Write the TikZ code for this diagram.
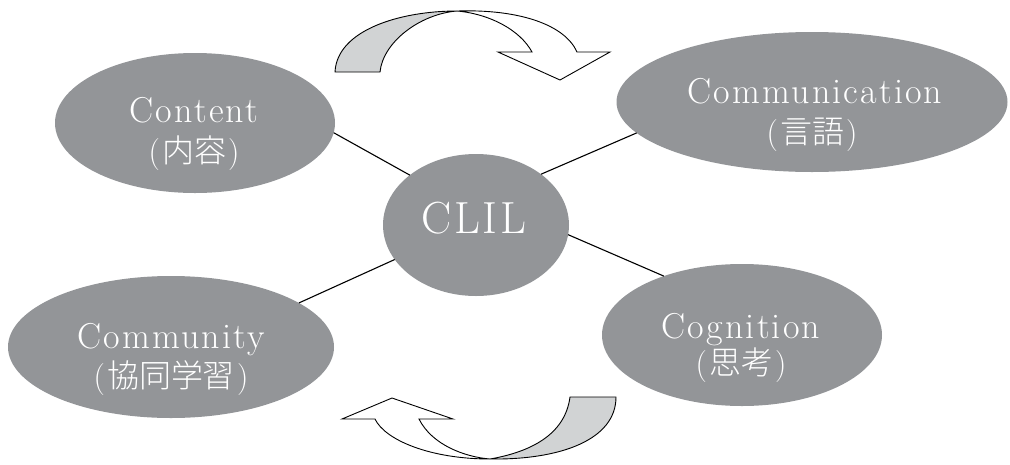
\documentclass[tikz,border=0pt]{standalone}
\usepackage{fontspec}
\setmainfont{Latin Modern Roman}[LetterSpace=6]
\newfontfamily\cjkfont{Noto Sans CJK JP Light}
\usetikzlibrary{shapes.geometric}
\definecolor{bubgray}{RGB}{147,149,152}
\definecolor{tailgray}{RGB}{209,211,212}
\newcommand\latfont{\fontsize{36}{40}\selectfont}
\newcommand\jpfont{\fontsize{32}{36}\selectfont}
\newcommand\clilfont{\fontsize{45}{50}\selectfont}
\newcommand\jpl[1]{(\kern2pt{\cjkfont #1}\kern2pt)}
\tikzset{
  bub/.style={ellipse, fill=bubgray, draw=none, inner sep=0pt, outer sep=0pt},
  lbl/.style={text=white, inner sep=0pt, anchor=base},
  link/.style={draw=black, line width=1.1pt},
  bandwhite/.style={draw=black, fill=white, line width=0.9pt, line join=miter},
  bandgray/.style={draw=black, fill=tailgray, line width=0.9pt, line join=miter},
}
\begin{document}
\begin{tikzpicture}[x=1pt,y=-1pt]
\useasboundingbox (0,0) rectangle (1010,464);

% bubbles
\node[bub, minimum width=280pt, minimum height=140pt] (content) at (195,123) {};
\node[bub, minimum width=391pt, minimum height=140pt] (comm) at (812,102) {};
\node[bub, minimum width=186pt, minimum height=142pt] (clil) at (476,225) {};
\node[bub, minimum width=280pt, minimum height=142pt] (cogn) at (742,335) {};
\node[bub, minimum width=326pt, minimum height=142pt] (commu) at (171,347) {};

% connectors
\draw[link] (content.-4) -- (clil.143);
\draw[link] (clil.38) -- (comm.190);
\draw[link] (clil.-6) -- (cogn.143);
\draw[link] (clil.203) -- (commu.19);

% labels
\node[lbl, font=\latfont] (content-a) at (194,122) {Content};
\node[lbl, font=\jpfont] (content-b) at (194,162) {\jpl{内容}};
\node[lbl, font=\latfont] (comm-a) at (815,103) {Communication};
\node[lbl, font=\jpfont] (comm-b) at (812,143) {\jpl{言語}};
\node[lbl, font=\clilfont] (clil-a) at (474,233) {CLIL};
\node[lbl, font=\latfont] (cogn-a) at (741,338) {Cognition};
\node[lbl, font=\jpfont] (cogn-b) at (741,374) {\jpl{思考}};
\node[lbl, font=\latfont] (commu-a) at (171,348) {Community};
\node[lbl, font=\jpfont] (commu-b) at (171,387) {\jpl{協同学習}};

% top curved arrow
\draw[bandwhite] (457,11) .. controls (520,9) and (565,25) .. (577,52)
  -- (610,52) -- (560,80) -- (498,52) -- (532,52)
  .. controls (520,30) and (490,14) .. (457,11) -- cycle;
\draw[bandgray] (335,72) .. controls (337,30) and (400,11) .. (457,11)
  .. controls (420,14) and (383,42) .. (380,72) -- cycle;

% bottom curved arrow
\draw[bandwhite] (490,459) .. controls (430,459) and (385,440) .. (375,419)
  -- (342,419) -- (392,398) -- (453,419) -- (419,419)
  .. controls (432,445) and (465,457) .. (490,459) -- cycle;
\draw[bandgray] (570,397) -- (616,397) .. controls (616,440) and (560,460) .. (490,459)
  .. controls (530,452) and (565,435) .. (570,397) -- cycle;
\end{tikzpicture}
\end{document}
